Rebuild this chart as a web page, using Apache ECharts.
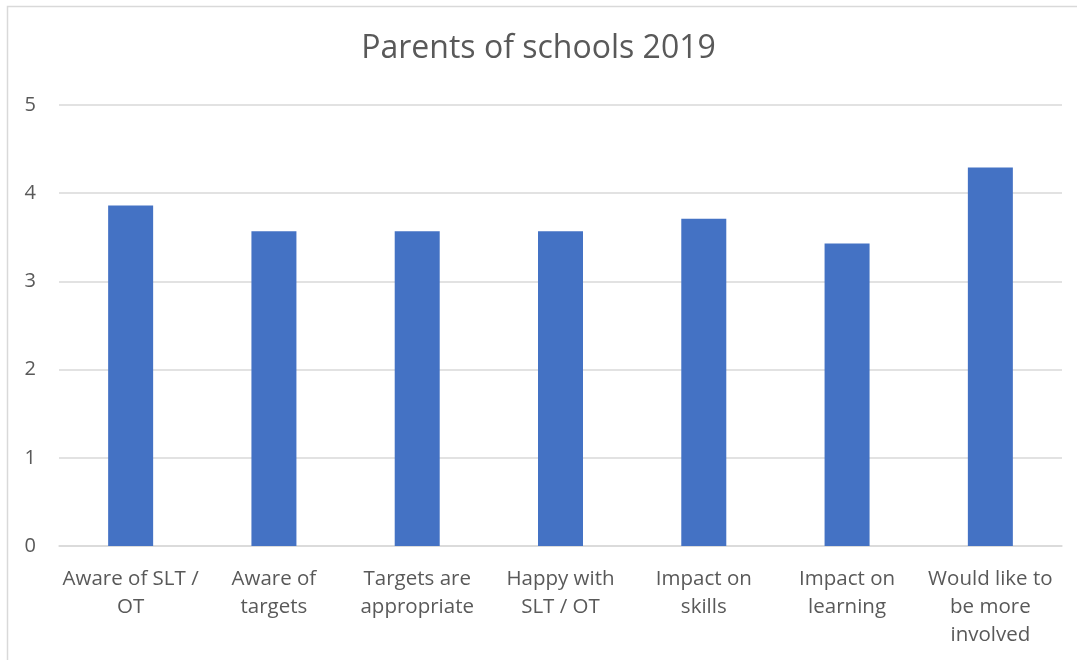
<!DOCTYPE html>
<html>
<head>
<meta charset="utf-8">
<script src="https://cdn.jsdelivr.net/npm/echarts@6/dist/echarts.min.js"></script>
<style>
html,body{margin:0;padding:0;background:#fff;}
#chart{width:1077px;height:660px;}
</style>
</head>
<body>
<div id="chart"></div>
<script>
const titleText = 'Parents of schools 2019';
const categories = ['Aware of SLT /\nOT', 'Aware of\ntargets', 'Targets are\nappropriate', 'Happy with\nSLT / OT', 'Impact on\nskills', 'Impact on\nlearning', 'Would like to\nbe more\ninvolved'];
const values = [3.86, 3.57, 3.57, 3.57, 3.71, 3.43, 4.29];
const yTicks = [0, 1, 2, 3, 4, 5];

const chart = echarts.init(document.getElementById('chart'), null, {renderer: 'canvas'});
const font = '"Open Sans", Lato, sans-serif';
chart.setOption({
  backgroundColor: '#ffffff',
  animation: false,
  title: {
    text: titleText,
    left: 'center',
    top: 28,
    textStyle: {fontFamily: font, fontSize: 32, fontWeight: 'normal', color: '#595959'}
  },
  graphic: [{
    type: 'rect',
    shape: {x: 7.5, y: 6.5, width: 1200, height: 800},
    style: {fill: 'none', stroke: '#d9d9d9', lineWidth: 1.5},
    silent: true
  }],
  grid: {left: 59, right: 15, top: 105, bottom: 114, containLabel: false},
  xAxis: {
    type: 'category',
    data: categories,
    axisLine: {lineStyle: {color: '#d9d9d9', width: 1.5}},
    axisTick: {show: false},
    axisLabel: {fontFamily: font, fontSize: 20.5, color: '#595959', lineHeight: 28, margin: 19, interval: 0}
  },
  yAxis: {
    type: 'value',
    min: yTicks[0],
    max: yTicks[yTicks.length - 1],
    interval: 1,
    axisLine: {show: false},
    axisTick: {show: false},
    splitLine: {lineStyle: {color: '#d9d9d9', width: 1.5}},
    axisLabel: {fontFamily: font, fontSize: 20, color: '#595959', margin: 23}
  },
  series: [{
    type: 'bar',
    data: values,
    barWidth: 45,
    itemStyle: {color: '#4472C4'}
  }]
});
</script>
</body>
</html>
